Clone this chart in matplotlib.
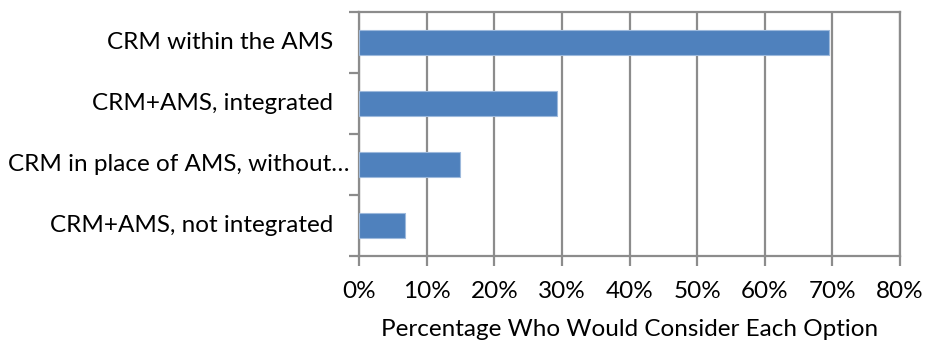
import numpy as np
import matplotlib.pyplot as plt
from matplotlib.ticker import FixedLocator, PercentFormatter

plt.rcParams['font.family'] = ['Lato', 'DejaVu Sans']

# Survey responses
options = ['CRM within the AMS', 'CRM+AMS, integrated',
           'CRM in place of AMS, without…', 'CRM+AMS, not integrated']
shares = [69.5, 29.3, 14.9, 6.8]
# gap between axis and label end (px); the truncated label sits closer
label_gap = [26, 26, 9, 26]

grid_gray = '#8c8c8c'

fig = plt.figure(figsize=(9.25, 3.41), dpi=100)
ax = fig.add_axes([359 / 925, 1 - 256 / 341, 541 / 925, 244 / 341])

y = np.arange(len(options))
ax.barh(y, shares, height=0.4, color='#4F81BD', edgecolor='#9db9dc',
        linewidth=0.8, zorder=3)

ax.set_xlim(0, 80)
ax.set_ylim(len(options) - 0.5, -0.5)
ax.set_xticks(np.arange(0, 81, 10))
ax.xaxis.set_major_formatter(PercentFormatter(decimals=0))
ax.set_yticks(y)
ax.set_yticklabels([])
ax.yaxis.set_minor_locator(FixedLocator(np.arange(-0.5, len(options), 1)))

for yi, name, gap in zip(y, options, label_gap):
    ax.annotate(name, xy=(0, yi), xycoords=('axes fraction', 'data'),
                xytext=(-gap * 0.72, 0), textcoords='offset points',
                ha='right', va='center', fontsize=17.5)

ax.grid(axis='x', color=grid_gray, linewidth=1.6, zorder=0)
for s in ax.spines.values():
    s.set_color(grid_gray)
    s.set_linewidth(1.6)

ax.tick_params(axis='y', which='major', length=0)
ax.tick_params(axis='y', which='minor', length=7, width=1.6, color=grid_gray)
ax.tick_params(axis='x', length=7, width=1.6, color=grid_gray, pad=11,
               labelsize=17.5)
ax.set_xlabel('Percentage Who Would Consider Each Option', fontsize=17.5,
              labelpad=12)

fig.savefig('out.png', dpi=100)
